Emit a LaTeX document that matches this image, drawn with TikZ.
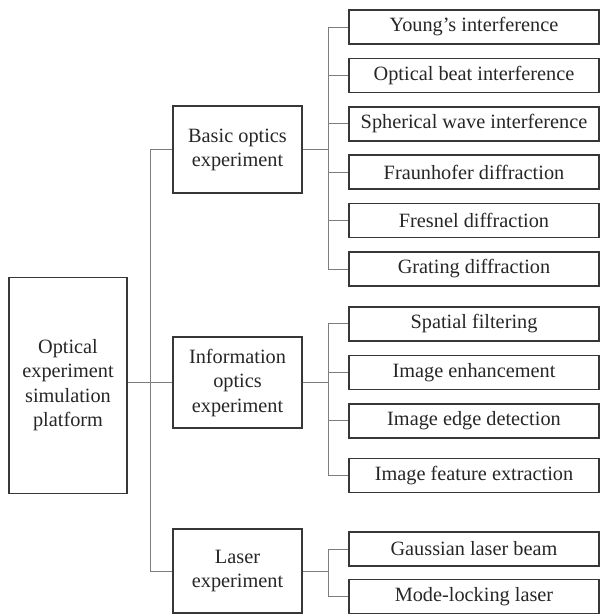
\documentclass[tikz,border=0pt]{standalone}
\usepackage{fontspec}
\setmainfont{Liberation Serif}
\definecolor{boxColor}{RGB}{55,55,55}
\definecolor{linkColor}{RGB}{125,125,125}
\definecolor{textColor}{RGB}{38,38,38}
\tikzstyle{chart} = [x = 1pt, y = -1pt]
\tikzstyle{boxStyle} = [draw=boxColor, line width=1.6pt, inner sep=0pt, align=center, text=textColor, font=\fontsize{20.3}{24.5}\selectfont]
\tikzstyle{leafStyle} = [boxStyle, minimum width=250pt, minimum height=34pt]
\tikzstyle{branchStyle} = [boxStyle, minimum width=129pt]
\tikzstyle{linkLine} = [draw=linkColor, line width=1pt]
\newcommand{\leafBox}[3]{\node [leafStyle] (#1) at (474, #2) {#3};}
\newcommand{\leafLink}[2]{\draw [linkLine] (#1.east) -- ++(26,0) |- (#2.west);}

\begin{document}
\begin{tikzpicture}[chart]
  \useasboundingbox (0,0) rectangle (600,614);
  \node [boxStyle, minimum width=118pt, minimum height=216pt] (platform) at (68, 385.3) {Optical\\experiment\\simulation\\platform};
  \node [branchStyle, minimum height=87pt] (basicOptics) at (237.5, 149.7) {Basic optics\\experiment};
  \node [branchStyle, minimum height=91pt] (infoOptics) at (237.5, 382.7) {Information\\optics\\experiment};
  \node [branchStyle, minimum height=84pt] (laser) at (237.5, 571.2) {Laser\\experiment};

  \leafBox{young}{27}{Young’s interference}
  \leafBox{opticalBeat}{75.4}{Optical beat interference}
  \leafBox{spherical}{123.7}{Spherical wave interference}
  \leafBox{fraunhofer}{172}{Fraunhofer diffraction}
  \leafBox{fresnel}{220.3}{Fresnel diffraction}
  \leafBox{grating}{269}{Grating diffraction}
  \leafBox{spatialFilter}{323.7}{Spatial filtering}
  \leafBox{enhancement}{372.5}{Image enhancement}
  \leafBox{edgeDetect}{420.7}{Image edge detection}
  \leafBox{featureExtract}{475.3}{Image feature extraction}
  \leafBox{gaussian}{549}{Gaussian laser beam}
  \leafBox{modeLocking}{596.3}{Mode-locking laser}

  \draw [linkLine] (basicOptics.west) -- ++(-21.5,0) |- (laser.west);
  \draw [linkLine] (platform.east |- infoOptics.west) -- (infoOptics.west);
  \foreach \leaf in {young, opticalBeat, spherical, fraunhofer, fresnel, grating} {
    \leafLink{basicOptics}{\leaf}
  }
  \foreach \leaf in {spatialFilter, enhancement, edgeDetect, featureExtract} {
    \leafLink{infoOptics}{\leaf}
  }
  \foreach \leaf in {gaussian, modeLocking} {
    \leafLink{laser}{\leaf}
  }
\end{tikzpicture}
\end{document}
